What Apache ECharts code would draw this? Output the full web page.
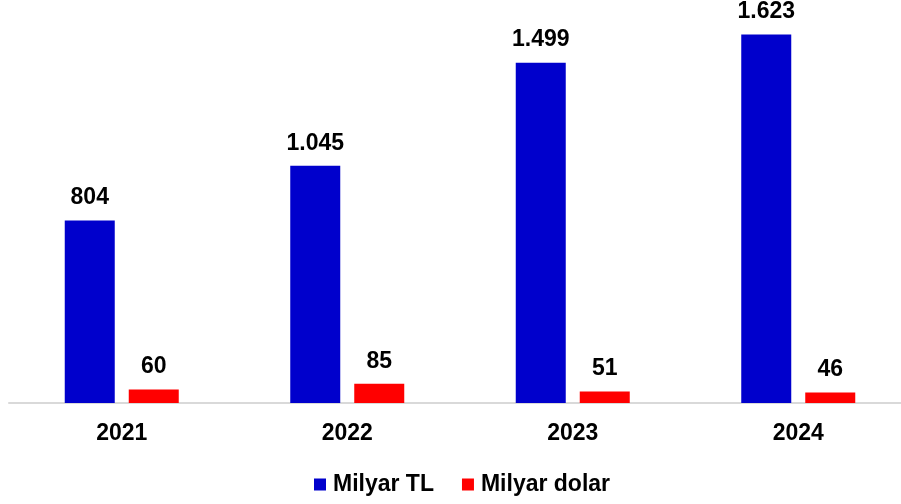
<!DOCTYPE html>
<html><head><meta charset="utf-8">
<script src="https://cdn.jsdelivr.net/npm/echarts@6/dist/echarts.min.js"></script>
<style>html,body{margin:0;padding:0;background:#fff}#c{width:901px;height:504px}</style>
</head><body><div id="c"></div>
<script>
const categories = ['2021', '2022', '2023', '2024'];
const seriesNames = ['Milyar TL', 'Milyar dolar'];
const milyarTL = [804, 1045, 1499, 1623];
const milyarDolar = [60, 85, 51, 46];
const colors = ['#0000CC', '#FF0000'];

function fmt(v) {
  return String(v).replace(/\B(?=(\d{3})+(?!\d))/g, '.');
}
const font = 'Liberation Sans, Arial, sans-serif';
const labelCfg = {
  show: true, position: 'top', distance: 11,
  fontFamily: font, fontWeight: 'bold', fontSize: 23, color: '#000',
  formatter: p => fmt(p.value)
};
const chart = echarts.init(document.getElementById('c'), null, {renderer: 'canvas'});
chart.setOption({
  animation: false,
  grid: {left: 9, width: 902, top: 17, bottom: 101, containLabel: false, outerBoundsMode: 'none'},
  legend: {
    left: 314, top: 473, padding: 0, itemWidth: 12, itemHeight: 12, itemGap: 28,
    icon: 'rect',
    textStyle: {fontFamily: font, fontWeight: 'bold', fontSize: 23, color: '#000', padding: [0, 0, 0, 2]},
    data: seriesNames
  },
  xAxis: {
    type: 'category', data: categories,
    axisLine: {lineStyle: {color: '#d9d9d9', width: 2}},
    axisTick: {show: false},
    axisLabel: {fontFamily: font, fontWeight: 'bold', fontSize: 23, color: '#000', margin: 19}
  },
  yAxis: {type: 'value', min: 0, max: 1700, show: false, splitLine: {show: false}},
  series: [
    {name: seriesNames[0], type: 'bar', data: milyarTL, barWidth: 50, barGap: '28%',
     itemStyle: {color: colors[0]}, label: labelCfg},
    {name: seriesNames[1], type: 'bar', data: milyarDolar, barWidth: 50, barGap: '28%',
     itemStyle: {color: colors[1]}, label: labelCfg}
  ]
});
</script></body></html>
